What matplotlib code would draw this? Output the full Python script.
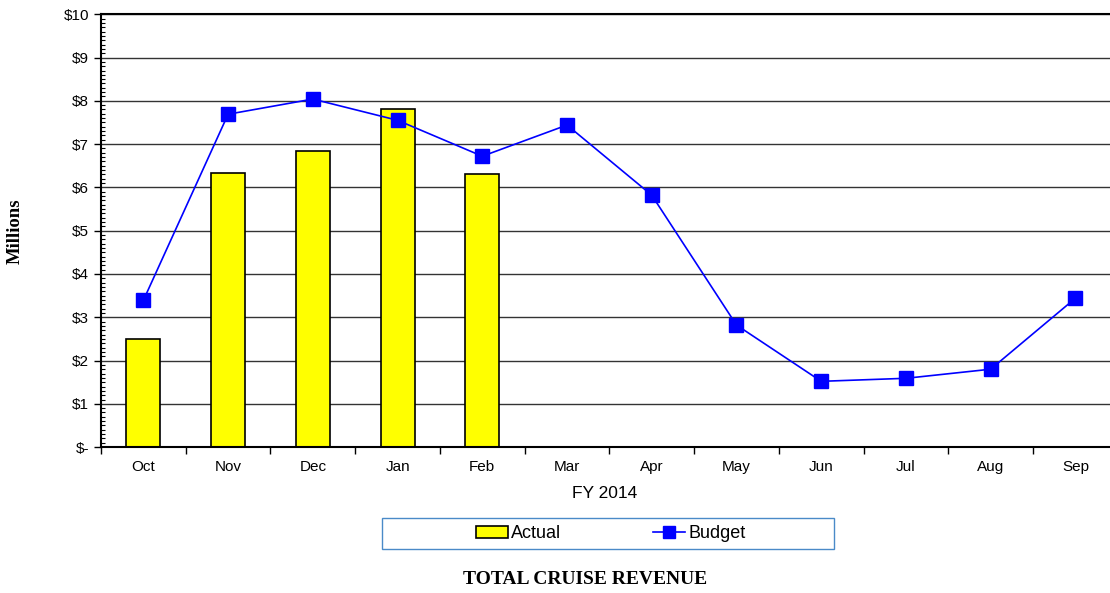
import matplotlib.pyplot as plt
import numpy as np
from matplotlib.patches import Patch, Rectangle
from matplotlib.lines import Line2D
from matplotlib.ticker import MultipleLocator

months = ['Oct', 'Nov', 'Dec', 'Jan', 'Feb', 'Mar', 'Apr', 'May', 'Jun', 'Jul', 'Aug', 'Sep']
actual = [2.50, 6.33, 6.84, 7.81, 6.30]
budget = [3.39, 7.69, 8.04, 7.55, 6.72, 7.44, 5.82, 2.82, 1.52, 1.59, 1.80, 3.44]
ytick_labels = ['$-', '$1', '$2', '$3', '$4', '$5', '$6', '$7', '$8', '$9', '$10']

plt.rcParams['font.family'] = ['Liberation Sans', 'DejaVu Sans']

fig = plt.figure(figsize=(11.1, 5.93), dpi=100)
ax = fig.add_axes([0.091, 0.246, 0.916, 0.730])

x = np.arange(len(months))
ax.bar(x[:len(actual)], actual, width=0.4, color='#ffff00', edgecolor='black', linewidth=1.2, zorder=2)
ax.plot(x, budget, color='#0000ff', linewidth=1.2, marker='s', markersize=9.5, zorder=3)

ax.set_xlim(-0.5, 11.5)
ax.set_ylim(0, 10)
ax.set_yticks(range(11))
ax.set_yticklabels(ytick_labels, fontsize=11)
ax.yaxis.set_minor_locator(MultipleLocator(0.1))
ax.tick_params(axis='y', which='major', direction='out', length=5, width=1)
ax.tick_params(axis='y', which='minor', direction='in', length=3, width=0.8)
ax.grid(axis='y', color='#333333', linewidth=1, zorder=0)

ax.set_xticks(np.arange(-0.5, 12, 1))
ax.set_xticklabels([])
ax.set_xticks(x, minor=True)
ax.set_xticklabels(months, minor=True, fontsize=11)
ax.tick_params(axis='x', which='major', direction='out', length=5, width=1)
ax.tick_params(axis='x', which='minor', length=0, pad=9)

ax.spines['right'].set_visible(False)
for s in ['left', 'bottom', 'top']:
    ax.spines[s].set_linewidth(1.5)

fig.text(0.545, 0.168, 'FY 2014', ha='center', va='center', fontsize=12.5)
fig.text(0.014, 0.61, 'Millions', ha='center', va='center', rotation=90,
         fontsize=13.5, fontweight='bold', family='Liberation Serif')
fig.text(0.527, 0.022, 'TOTAL CRUISE REVENUE', ha='center', va='center',
         fontsize=14, fontweight='bold', family='Liberation Serif')

# legend frame drawn separately, items centred inside it
fig.patches.append(Rectangle((0.344, 0.074), 0.407, 0.052, transform=fig.transFigure,
                             facecolor='white', edgecolor='#4a8ac8', linewidth=1))
handles = [Patch(facecolor='#ffff00', edgecolor='black', linewidth=1.2),
           Line2D([], [], color='#0000ff', linewidth=1.2, marker='s', markersize=8)]
leg = fig.legend(handles, ['Actual', 'Budget'], ncol=2, loc='center',
                 bbox_to_anchor=(0.550, 0.100), fontsize=13, frameon=False,
                 borderaxespad=0, handlelength=1.8, handletextpad=0.15,
                 columnspacing=5.1)

fig.savefig('out.png', dpi=100)
